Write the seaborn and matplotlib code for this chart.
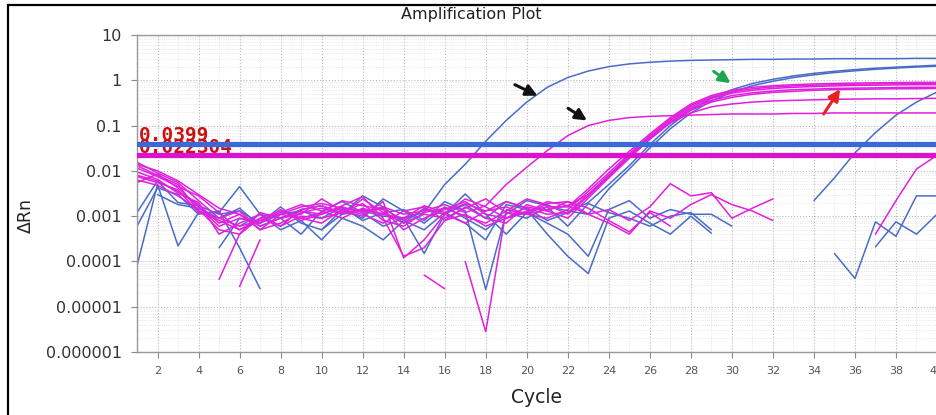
import numpy as np
import pandas as pd
import matplotlib
matplotlib.use('Agg')
import matplotlib.pyplot as plt
import seaborn as sns
from matplotlib.patches import Rectangle
from matplotlib.ticker import FixedLocator, MultipleLocator, LogLocator, NullFormatter

nan = np.nan
cycles = list(range(1, 41))

# ---- blue dye wells (delta Rn per cycle, nan = not plotted) ----
blue_early = [8e-5, 0.005, 0.00022, 0.0012, 0.0012, 0.0045, 0.0011, 0.0009, 0.0014, 0.0017,
              0.0011, 0.0013, 0.0010, 0.0009, 0.0012, 0.005, 0.014, 0.045, 0.13, 0.33,
              0.7, 1.15, 1.6, 2.0, 2.3, 2.5, 2.65, 2.75, 2.8, 2.85,
              2.9, 2.9, 2.95, 2.95, 3.0, 3.0, 3.0, 3.0, 3.05, 3.05]
blue_c1 = [0.0006, 0.0042, 0.003, 0.0011, 0.0013, 0.0002, 2.5e-5, nan, nan, 0.0005,
           0.0011, 0.0028, 0.0016, 0.0007, 0.0015, 0.0011, 0.0018, 0.0009, 0.0021, 0.0015,
           0.0008, 0.0012, 0.002, 0.005, 0.013, 0.038, 0.1, 0.22, 0.4, 0.62,
           0.85, 1.05, 1.25, 1.42, 1.58, 1.72, 1.85, 1.95, 2.05, 2.15]
blue_c2 = [0.0012, 0.006, 0.002, 0.0017, 0.0011, 0.0013, 0.0007, 0.0016, 0.0007, 0.0005,
           0.0014, 0.0009, 0.0024, 0.0013, 0.0007, 0.0016, 0.0009, 0.0005, 0.0011, 0.0022,
           0.0017, 0.0013, 0.0011, 0.004, 0.011, 0.032, 0.085, 0.19, 0.35, 0.55,
           0.76, 0.95, 1.15, 1.32, 1.48, 1.62, 1.75, 1.86, 1.96, 2.05]
blue_late = [nan, nan, nan, nan, 0.0002, 0.0009, 0.0007, 0.0011, 0.0013, 0.0009,
             0.0016, 0.0008, 0.0012, 0.0014, 0.0008, 0.0021, 0.0013, 2.4e-5, 0.0012, 0.0009,
             0.0016, 0.0006, 0.0019, 0.0012, 0.0009, 0.0006, 0.001, 0.0012, 0.0005, nan,
             nan, nan, nan, 0.0022, 0.007, 0.025, 0.07, 0.17, 0.33, 0.55]
blue_n1 = [nan, 0.003, 0.0018, 0.0015, 0.0009, 0.0015, 0.0006, 0.0009, 0.0004, 0.0013,
           0.0021, 0.0012, 0.0006, 0.0009, 0.00015, 0.0011, 0.0031, 0.0011, 0.0004, 0.0012,
           0.0007, 0.0004, 0.00013, 0.0014, 0.0022, 0.0009, 0.0014, 0.0011, 0.0011, 0.0006,
           nan, nan, nan, nan, nan, nan, nan, nan, nan, nan]
blue_n2 = [nan, nan, nan, nan, nan, 0.0006, 0.0011, 0.0005, 0.0008, 0.0003,
           0.0009, 0.0006, 0.0003, 0.0008, 0.0005, 0.0012, 0.0007, 0.0003, 0.0018, 0.0014,
           0.0004, 0.00013, 5.4e-5, 0.0009, 0.0013, 0.0007, 0.0004, 0.001, 0.00042, nan,
           nan, nan, nan, nan, nan, nan, nan, nan, nan, nan]
blue_late2 = [nan] * 34 + [1.5e-4, 4.2e-5, 7.5e-4, 3.6e-4, 0.0028, 0.0028]
blue_late3 = [nan] * 36 + [2.1e-4, 7.5e-4, 4e-4, 0.0011]

# ---- magenta dye wells ----
mag_arrow = [0.0155, 0.009, 0.0055, 0.0022, 0.0009, 0.0006, 0.0008, 0.0011, 0.0016, 0.0019,
             0.0015, 0.0013, 0.0016, 0.0011, 0.0013, 0.0018, 0.0012, 0.0017, 0.005, 0.012,
             0.028, 0.06, 0.1, 0.13, 0.15, 0.16, 0.165, 0.17, 0.175, 0.18,
             0.18, 0.18, 0.185, 0.185, 0.19, 0.19, 0.19, 0.19, 0.19, 0.19]
mag_c1 = [0.0115, 0.0075, 0.0045, 0.0028, 0.0012, 0.0005, 0.0009, 0.0013, 0.0009, 0.0012,
          0.0022, 0.0017, 0.0014, 0.0005, 0.0009, 0.0014, 0.0021, 0.0011, 0.0009, 0.0013,
          0.0016, 0.0016, 0.004, 0.011, 0.027, 0.065, 0.15, 0.3, 0.46, 0.6,
          0.7, 0.76, 0.8, 0.83, 0.85, 0.87, 0.88, 0.89, 0.9, 0.9]
mag_c2 = [0.008, 0.006, 0.0035, 0.0018, 0.0007, 0.0011, 0.0005, 0.0007, 0.0012, 0.0015,
          0.0011, 0.0024, 0.0012, 0.0007, 0.0011, 0.0009, 0.0015, 0.0024, 0.0012, 0.0011,
          0.0009, 0.0014, 0.0035, 0.009, 0.024, 0.06, 0.14, 0.28, 0.43, 0.56,
          0.65, 0.71, 0.75, 0.78, 0.8, 0.82, 0.83, 0.84, 0.85, 0.85]
mag_c3 = [0.0063, 0.0048, 0.0028, 0.0014, 0.0005, 0.0004, 0.0012, 0.0009, 0.0011, 0.0024,
          0.0013, 0.0010, 0.0021, 0.00012, 0.0003, 0.0011, 0.0007, 0.0013, 0.0021, 0.0015,
          0.0011, 0.0012, 0.003, 0.008, 0.021, 0.055, 0.13, 0.26, 0.4, 0.52,
          0.6, 0.66, 0.7, 0.73, 0.75, 0.77, 0.78, 0.79, 0.8, 0.8]
mag_c4 = [0.0055, 0.0085, 0.0042, 0.0016, 0.0006, 0.0009, 0.0007, 0.0014, 0.0008, 0.0011,
          0.0017, 0.0027, 0.0009, 0.00013, 0.0002, 0.0008, 0.0016, 0.0009, 0.0007, 0.0018,
          0.0013, 0.0009, 0.0025, 0.007, 0.019, 0.05, 0.12, 0.24, 0.36, 0.46,
          0.53, 0.58, 0.62, 0.64, 0.66, 0.67, 0.68, 0.69, 0.7, 0.7]
mag_c5 = [0.0095, 0.0065, 0.0032, 0.002, 0.0004, 0.0007, 0.0011, 0.0006, 0.0014, 0.0017,
          0.0012, 0.0019, 0.0008, 0.0006, 0.0012, 0.0015, 0.001, 0.0007, 0.0013, 0.0024,
          0.0018, 0.0011, 0.0028, 0.0075, 0.02, 0.05, 0.115, 0.22, 0.33, 0.42,
          0.49, 0.54, 0.57, 0.6, 0.62, 0.63, 0.64, 0.65, 0.65, 0.66]
mag_c6 = [0.013, 0.008, 0.005, 0.0013, 0.0008, 0.0005, 0.0008, 0.0012, 0.0018, 0.0013,
          0.0009, 0.0015, 0.0011, 0.0009, 0.0017, 0.0012, 0.0019, 0.0013, 0.0016, 0.0011,
          0.0014, 0.0017, 0.003, 0.008, 0.022, 0.055, 0.115, 0.19, 0.26, 0.3,
          0.33, 0.35, 0.36, 0.37, 0.38, 0.385, 0.39, 0.39, 0.395, 0.4]
mag_dip = [nan, nan, nan, nan, 4e-5, 0.0004, 0.0009, 0.0006, 0.0010, 0.0009,
           0.0012, 0.0014, 0.0011, 0.0009, nan, nan, 0.0001, 2.8e-6, 0.0014, 0.0011,
           0.0019, 0.0021, 0.0015, 0.0008, 0.00045, 0.0012, 0.0006, nan, nan, nan,
           nan, nan, nan, nan, nan, nan, nan, nan, nan, nan]
mag_n1 = [0.014, 0.01, 0.006, 0.003, 0.0015, 0.0011, 0.0006, 0.0009, 0.0013, 0.0011,
          0.0016, 0.0012, 0.0015, 0.0008, 0.0014, 0.0011, 0.0024, 0.0016, 0.0009, 0.0012,
          0.0021, 0.0017, 0.0011, 0.0014, 0.0008, 0.0016, 0.0052, 0.0028, 0.0033, 0.0009,
          0.0015, 0.0024, nan, nan, nan, nan, nan, nan, nan, nan]
mag_n2 = [0.0075, 0.0055, 0.0038, 0.0012, 0.0009, 0.0013, 0.0005, 0.0011, 0.0009, 0.0007,
          0.0014, 0.0011, 0.0007, 0.0013, 0.0016, 0.0008, 0.0011, 0.0006, 0.0009, 0.0016,
          0.0013, 0.0021, 0.0011, 0.0007, 0.0004, 0.0013, 0.0009, 0.0018, 0.003, 0.0018,
          0.0013, 0.0008, nan, nan, nan, nan, nan, nan, nan, nan]
mag_short1 = [nan] * 5 + [2.8e-5, 3e-4] + [nan] * 33
mag_short2 = [nan] * 14 + [5e-5, 2.5e-5] + [nan] * 24
mag_late = [nan] * 36 + [4e-4, 0.0022, 0.011, 0.022]

blue_series = [blue_n1, blue_n2, blue_late, blue_late2, blue_late3, blue_c2, blue_c1, blue_early]
mag_series = [mag_n1, mag_n2, mag_dip, mag_short1, mag_short2, mag_late,
              mag_c6, mag_c5, mag_c4, mag_c3, mag_c2, mag_c1, mag_arrow]

thr_blue = 0.0399
thr_mag = 0.022304
thr_labels = ['0.0399', '0.022304']

y_ticks = [1e-6, 1e-5, 1e-4, 1e-3, 1e-2, 1e-1, 1, 10]
y_tick_labels = ['0.000001', '0.00001', '0.0001', '0.001', '0.01', '0.1', '1', '10']
x_ticks = list(range(2, 41, 2))

# arrows: (tail cycle, tail value, head cycle, head value, colour)
arrows = [(19.3, 0.85, 20.65, 0.43, '#111111'),
          (21.9, 0.26, 23.05, 0.12, '#111111'),
          (29.0, 1.7, 30.05, 0.8, '#1fa552'),
          (34.4, 0.16, 35.35, 0.72, '#e8231f')]

BLUE = '#4a6cc9'
MAGENTA = '#e020dd'

# long table, one unit for every unbroken run of values
rows = []
seg = 0
for dye, group in [('blue', blue_series), ('magenta', mag_series)]:
    for s in group:
        seg += 1
        for c, v in zip(cycles, s):
            if np.isnan(v):
                seg += 1
                continue
            rows.append((c, v, dye, seg))
df = pd.DataFrame(rows, columns=['cycle', 'drn', 'dye', 'seg'])

sns.set_style('white')
plt.rcParams['font.family'] = ['DejaVu Sans']

fig = plt.figure(figsize=(9.37, 4.15), dpi=100)
ax = fig.add_axes([137 / 937, 63 / 415, 800 / 937, 317 / 415])

sns.lineplot(data=df, x='cycle', y='drn', hue='dye', units='seg', estimator=None,
             palette={'blue': BLUE, 'magenta': MAGENTA}, linewidth=1.1,
             legend=False, ax=ax, sort=False)

ax.set_yscale('log')
ax.set_ylim(1e-6, 10)
ax.set_xlim(1, 40)

# threshold lines drawn over their labels, like the instrument software
ax.axhline(thr_blue, color='#3a68d8', lw=3.8, zorder=4)
ax.axhline(thr_mag, color='#dc12cf', lw=3.8, zorder=4)
tr = ax.get_yaxis_transform()
ax.text(0.002, thr_blue * 1.14, thr_labels[0], transform=tr, color='#cc1111',
        fontsize=14, fontweight='bold', family='DejaVu Sans Mono', va='baseline', zorder=3.5)
ax.text(0.002, thr_mag * 1.14, thr_labels[1], transform=tr, color='#cc1111',
        fontsize=14, fontweight='bold', family='DejaVu Sans Mono', va='baseline', zorder=3.5)

for x0, y0, x1, y1, col in arrows:
    ax.annotate('', xy=(x1, y1), xytext=(x0, y0),
                arrowprops=dict(arrowstyle='-|>', color=col, lw=2.2, mutation_scale=17),
                zorder=6)

# ticks and grid
ax.yaxis.set_major_locator(FixedLocator(y_ticks))
ax.set_yticklabels(y_tick_labels)
ax.yaxis.set_minor_locator(LogLocator(base=10, subs=np.arange(2, 10)))
ax.yaxis.set_minor_formatter(NullFormatter())
ax.set_xticks(x_ticks)
ax.xaxis.set_minor_locator(MultipleLocator(1))
ax.tick_params(axis='y', which='major', length=4, width=0.8, color='#888888',
               labelsize=11.5, labelcolor='#333333', pad=7, left=True)
ax.tick_params(axis='x', which='major', length=4, width=0.8, color='#888888',
               labelsize=8, labelcolor='#555555', pad=6, bottom=True)
ax.tick_params(which='minor', length=0)
ax.grid(True, which='major', ls=':', lw=0.8, color='#b8b8b8')
ax.grid(True, which='minor', ls=':', lw=0.6, color='#dedede')
ax.set_axisbelow(True)
for sp in ax.spines.values():
    sp.set_color('#999999')
    sp.set_linewidth(1.0)

ax.set_xlabel('')
ax.set_ylabel('')
fig.text(537 / 937, 1 - 397 / 415, 'Cycle', ha='center', va='center', fontsize=13.5, color='#222222')
fig.text(26 / 937, 1 - 215 / 415, 'ΔRn', ha='center', va='center', rotation=90, fontsize=12.5, color='#222222')
fig.text(471 / 937, 1 - 15 / 415, 'Amplification Plot', ha='center', va='center', fontsize=11.5, color='#222222')

# outer frame of the screenshot
fig.patches.append(Rectangle((8 / 937, -0.1), 1.2, (410 / 415) + 0.1, transform=fig.transFigure,
                             fill=False, edgecolor='black', lw=1.6))

fig.savefig('out.png', dpi=100)
